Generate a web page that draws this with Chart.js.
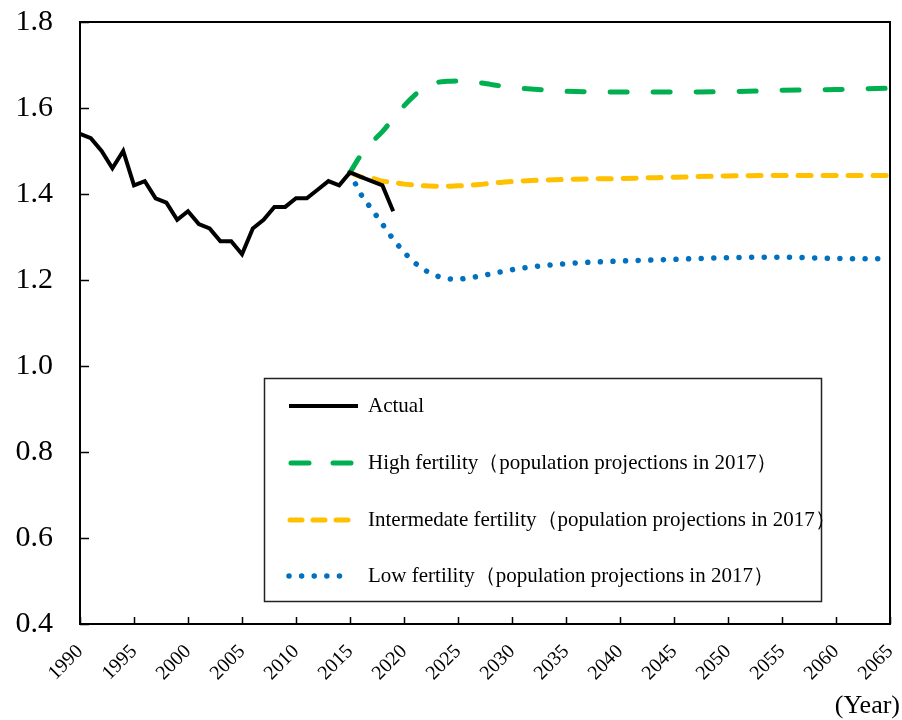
<!DOCTYPE html>
<html>
<head>
<meta charset="utf-8">
<script src="https://cdn.jsdelivr.net/npm/chart.js@4"></script>
<style>
  html, body { margin: 0; padding: 0; background: #fff; }
  #wrap { width: 902px; height: 720px; position: relative; }
</style>
</head>
<body>
<div id="wrap"><canvas id="tfrChart"></canvas></div>
<script>
// dados
const actualYears = [1990, 1991, 1992, 1993, 1994, 1995, 1996, 1997, 1998, 1999,
                     2000, 2001, 2002, 2003, 2004, 2005, 2006, 2007, 2008, 2009,
                     2010, 2011, 2012, 2013, 2014, 2015, 2016, 2017, 2018, 2019];
const actualTfr = [1.54, 1.53, 1.50, 1.46, 1.50, 1.42, 1.43, 1.39, 1.38, 1.34,
                   1.36, 1.33, 1.32, 1.29, 1.29, 1.26, 1.32, 1.34, 1.37, 1.37,
                   1.39, 1.39, 1.41, 1.43, 1.42, 1.45, 1.44, 1.43, 1.42, 1.36];

const projYears = [2015, 2016, 2017, 2018, 2019, 2020, 2021, 2022, 2023, 2024, 2025,
                   2026, 2027, 2028, 2029, 2030, 2035, 2040, 2045, 2050, 2055, 2060, 2065];
const highTfr = [1.45, 1.49, 1.52, 1.545, 1.575, 1.605, 1.63, 1.65, 1.659, 1.662, 1.663,
                 1.662, 1.659, 1.655, 1.651, 1.648, 1.639, 1.637, 1.637, 1.638, 1.641, 1.643, 1.646];
const mediumTfr = [1.45, 1.44, 1.437, 1.43, 1.427, 1.423, 1.421, 1.419, 1.418, 1.418, 1.419,
                   1.42, 1.422, 1.425, 1.427, 1.429, 1.434, 1.436, 1.439, 1.442, 1.443, 1.443, 1.443];
const lowTfr = [1.45, 1.40, 1.365, 1.33, 1.295, 1.265, 1.24, 1.222, 1.21, 1.203, 1.202,
                1.205, 1.209, 1.214, 1.219, 1.224, 1.238, 1.244, 1.248, 1.252, 1.253, 1.25, 1.249];

const seriesLabels = [
  'Actual',
  'High fertility\uFF08population projections in 2017\uFF09',
  'Intermedate fertility\uFF08population projections in 2017\uFF09',
  'Low fertility\uFF08population projections in 2017\uFF09'
];

const serif = "'Liberation Serif', 'Times New Roman', serif";

function pts(xs, ys) {
  return xs.map((x, i) => ({ x: x, y: ys[i] }));
}

// tira o espaço extra que o Chart.js reserva para os rótulos
function noPadding(s) {
  s.paddingTop = 0;
  s.paddingBottom = 0;
  s.paddingLeft = 0;
  s.paddingRight = 0;
}

// caixa do gráfico, marcas internas e legenda
const framePlugin = {
  id: 'frame',
  afterDraw(chart) {
    const ctx = chart.ctx;
    const a = chart.chartArea;
    const xs = chart.scales.x;
    const ys = chart.scales.y;
    ctx.save();
    ctx.strokeStyle = '#000';
    ctx.lineWidth = 2;
    ctx.strokeRect(a.left, a.top, a.right - a.left, a.bottom - a.top);
    ctx.lineWidth = 1.5;
    ctx.beginPath();
    xs.ticks.forEach(t => {
      const px = Math.round(xs.getPixelForValue(t.value)) + 0.5;
      ctx.moveTo(px, a.bottom);
      ctx.lineTo(px, a.bottom - 7);
    });
    ys.ticks.forEach(t => {
      const py = Math.round(ys.getPixelForValue(t.value)) + 0.5;
      ctx.moveTo(a.left, py);
      ctx.lineTo(a.left + 9, py);
    });
    ctx.stroke();

    // legenda
    const box = { x: 264.5, y: 378.5, w: 557, h: 223 };
    ctx.strokeStyle = '#222';
    ctx.lineWidth = 1.5;
    ctx.strokeRect(box.x, box.y, box.w, box.h);
    const rows = [406, 463, 520, 576];
    chart.data.datasets.forEach((ds, i) => {
      const y = rows[i];
      ctx.save();
      ctx.strokeStyle = ds.borderColor;
      ctx.lineWidth = ds.borderWidth;
      ctx.lineCap = ds.borderCapStyle || 'butt';
      ctx.setLineDash(ds.legendDash || ds.borderDash || []);
      ctx.beginPath();
      ctx.moveTo(ds.legendStart || 289, y);
      ctx.lineTo(ds.legendEnd || 358, y);
      ctx.stroke();
      ctx.restore();
      ctx.fillStyle = '#000';
      ctx.font = '21px ' + serif;
      ctx.textBaseline = 'middle';
      ctx.textAlign = 'left';
      ctx.fillText(ds.label, 368, y);
    });

    ctx.font = '26px ' + serif;
    ctx.textAlign = 'right';
    ctx.textBaseline = 'middle';
    ctx.fillStyle = '#000';
    ctx.fillText('(Year)', 900, 706);
    ctx.restore();
  }
};

const ctx = document.getElementById('tfrChart').getContext('2d');
new Chart(ctx, {
  type: 'line',
  data: {
    datasets: [
      {
        label: seriesLabels[0],
        data: pts(actualYears, actualTfr),
        borderColor: '#000000',
        borderWidth: 4,
        borderJoinStyle: 'miter',
        pointRadius: 0,
        tension: 0
      },
      {
        label: seriesLabels[1],
        data: pts(projYears, highTfr),
        borderColor: '#00B050',
        borderWidth: 5,
        borderDash: [17, 26],
        borderCapStyle: 'round',
        legendDash: [18, 24],
        legendStart: 291,
        legendEnd: 356,
        pointRadius: 0,
        cubicInterpolationMode: 'monotone'
      },
      {
        label: seriesLabels[2],
        data: pts(projYears, mediumTfr),
        borderColor: '#FFC000',
        borderWidth: 5,
        borderDash: [13, 12],
        borderCapStyle: 'round',
        legendDash: [12, 11],
        legendStart: 290,
        legendEnd: 356,
        pointRadius: 0,
        cubicInterpolationMode: 'monotone'
      },
      {
        label: seriesLabels[3],
        data: pts(projYears, lowTfr),
        borderColor: '#0070C0',
        borderWidth: 5.5,
        borderDash: [0.01, 12.6],
        borderCapStyle: 'round',
        legendStart: 289,
        legendEnd: 352,
        pointRadius: 0,
        cubicInterpolationMode: 'monotone'
      }
    ]
  },
  plugins: [framePlugin],
  options: {
    responsive: true,
    maintainAspectRatio: false,
    animation: false,
    layout: { padding: { top: 22, right: 12, left: 0, bottom: 0 } },
    scales: {
      x: {
        type: 'linear',
        min: 1990,
        max: 2065,
        grid: { display: false, drawTicks: false },
        border: { display: false },
        ticks: {
          stepSize: 5,
          minRotation: 45,
          maxRotation: 45,
          padding: 16,
          color: '#000',
          font: { family: serif, size: 20 },
          callback: v => String(v)
        },
        afterFit: s => { s.height = 96; noPadding(s); }
      },
      y: {
        min: 0.4,
        max: 1.8,
        grid: { display: false, drawTicks: false },
        border: { display: false },
        ticks: {
          stepSize: 0.2,
          padding: 27,
          color: '#000',
          font: { family: serif, size: 30 },
          callback: v => v.toFixed(1)
        },
        afterFit: s => { s.width = 80; noPadding(s); }
      }
    },
    plugins: {
      legend: { display: false },
      tooltip: { enabled: false }
    }
  }
});
</script>
</body>
</html>
